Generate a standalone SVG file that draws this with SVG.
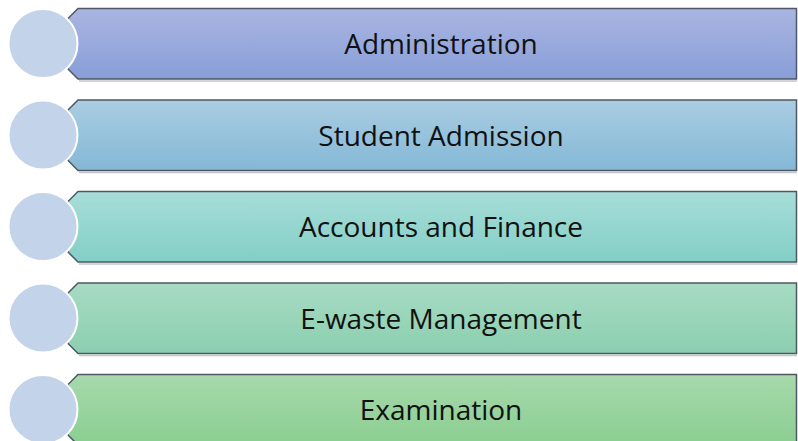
<svg xmlns="http://www.w3.org/2000/svg" width="798" height="441" viewBox="0 0 798 441">
<defs>
<linearGradient id="g1" x1="0" y1="0" x2="0" y2="1"><stop offset="0" stop-color="#a9b5e1"/><stop offset="1" stop-color="#889ed8"/></linearGradient>
<linearGradient id="g2" x1="0" y1="0" x2="0" y2="1"><stop offset="0" stop-color="#aacde2"/><stop offset="1" stop-color="#84b8d6"/></linearGradient>
<linearGradient id="g3" x1="0" y1="0" x2="0" y2="1"><stop offset="0" stop-color="#a8ddd8"/><stop offset="1" stop-color="#82cfc7"/></linearGradient>
<linearGradient id="g4" x1="0" y1="0" x2="0" y2="1"><stop offset="0" stop-color="#a7dbc4"/><stop offset="1" stop-color="#8bcfaf"/></linearGradient>
<linearGradient id="g5" x1="0" y1="0" x2="0" y2="1"><stop offset="0" stop-color="#a7d9ac"/><stop offset="1" stop-color="#8ace91"/></linearGradient>
</defs>
<style>
.bar{stroke:#4f5862;stroke-width:1.5}
.shadow{fill:none;stroke:#c4c8cc;stroke-width:1.5}
.dot{fill:#c2d3ea;stroke:#ffffff;stroke-width:2}
.lbl{font-family:"Open Sans","Liberation Sans",sans-serif;font-size:28px;fill:#111111;text-anchor:middle;dominant-baseline:central}
</style>
<rect width="798" height="441" fill="#ffffff"/>
<g id="node1">
<path class="shadow" d="M79,81 L797,81"/>
<path class="bar" fill="url(#g1)" d="M78,8.5 L796.5,8.5 L796.5,79 L78,79 L68,69 L68,18.5 Z"/>
<circle class="dot" cx="43" cy="43.5" r="34.5"/>
<text class="lbl" x="441" y="43">Administration</text>
</g>
<g id="node2">
<path class="shadow" d="M79,172.5 L797,172.5"/>
<path class="bar" fill="url(#g2)" d="M78,100 L796.5,100 L796.5,170.5 L78,170.5 L68,160.5 L68,110 Z"/>
<circle class="dot" cx="43" cy="135" r="34.5"/>
<text class="lbl" x="441" y="134.5">Student Admission</text>
</g>
<g id="node3">
<path class="shadow" d="M79,264 L797,264"/>
<path class="bar" fill="url(#g3)" d="M78,191.5 L796.5,191.5 L796.5,262 L78,262 L68,252 L68,201.5 Z"/>
<circle class="dot" cx="43" cy="226.5" r="34.5"/>
<text class="lbl" x="441" y="226">Accounts and Finance</text>
</g>
<g id="node4">
<path class="shadow" d="M79,355.5 L797,355.5"/>
<path class="bar" fill="url(#g4)" d="M78,283 L796.5,283 L796.5,353.5 L78,353.5 L68,343.5 L68,293 Z"/>
<circle class="dot" cx="43" cy="318" r="34.5"/>
<text class="lbl" x="441" y="317.5">E-waste Management</text>
</g>
<g id="node5">
<path class="bar" fill="url(#g5)" d="M78,374.5 L796.5,374.5 L796.5,445 L78,445 L68,435 L68,384.5 Z"/>
<circle class="dot" cx="43" cy="409.5" r="34.5"/>
<text class="lbl" x="441" y="409">Examination</text>
</g>
<g id="connectors"/>
</svg>
